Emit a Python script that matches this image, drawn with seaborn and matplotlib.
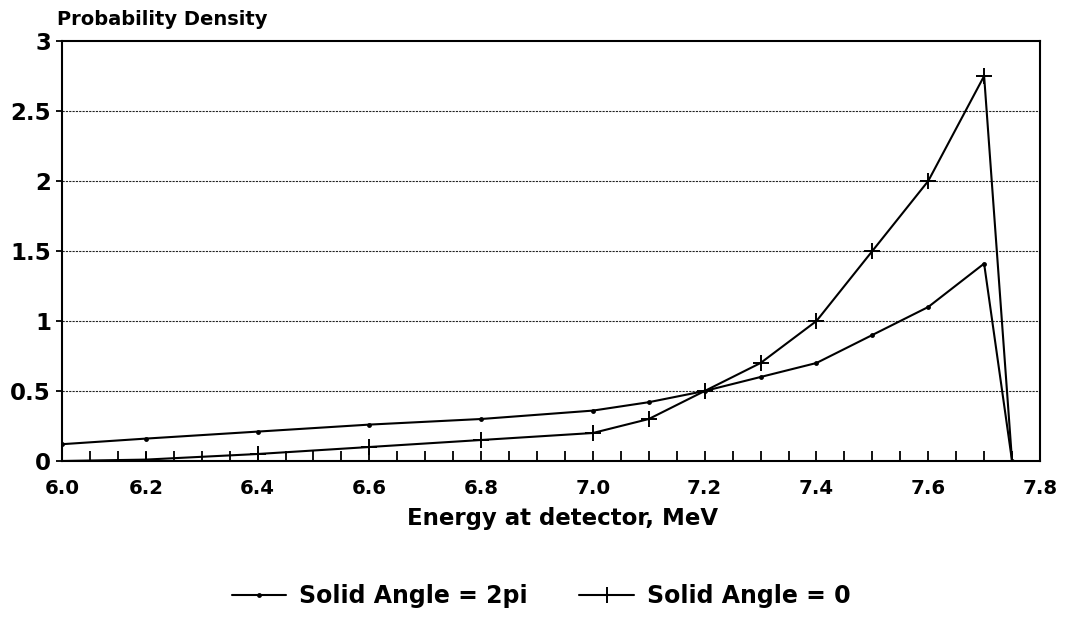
import numpy as np
import pandas as pd
import seaborn as sns
import matplotlib.pyplot as plt

# values
energy = [6.05, 6.2, 6.4, 6.6, 6.8, 7.0, 7.1, 7.2, 7.3, 7.4, 7.5, 7.6, 7.7, 7.75]
density_2pi = [0.12, 0.16, 0.21, 0.26, 0.30, 0.36, 0.42, 0.50, 0.60, 0.70, 0.90, 1.10, 1.41, 0.0]
density_0 = [0.0, 0.01, 0.05, 0.10, 0.15, 0.20, 0.30, 0.50, 0.70, 1.00, 1.50, 2.00, 2.75, 0.0]

x_ticks = [6.05, 6.2, 6.4, 6.6, 6.8, 7.0, 7.2, 7.4, 7.6, 7.8]
x_tick_labels = ["6.0", "6.2", "6.4", "6.6", "6.8", "7.0", "7.2", "7.4", "7.6", "7.8"]
y_ticks = [0, 0.5, 1, 1.5, 2, 2.5, 3]
y_tick_labels = ["0", "0.5", "1", "1.5", "2", "2.5", "3"]

df = pd.DataFrame({"E": energy, "2pi": density_2pi, "0": density_0})

sns.set_style("white")
plt.rcParams["font.family"] = ["DejaVu Sans"]
plt.rcParams["font.weight"] = "bold"
plt.rcParams["text.color"] = "black"
plt.rcParams["xtick.color"] = "black"
plt.rcParams["ytick.color"] = "black"
plt.rcParams["axes.labelcolor"] = "black"

fig = plt.figure(figsize=(10.68, 6.2), dpi=100)
ax = fig.add_axes([62 / 1068, 1 - 461 / 620, (1040 - 62) / 1068, (461 - 41) / 620])

sns.lineplot(data=df, x="E", y="2pi", ax=ax, color="black", linewidth=1.5,
             marker="o", markersize=3.5, markeredgewidth=0, label="Solid Angle = 2pi")
sns.lineplot(data=df, x="E", y="0", ax=ax, color="black", linewidth=1.5,
             marker="+", markersize=12, markeredgewidth=1.4, markeredgecolor="black",
             label="Solid Angle = 0")

ax.set_xlim(6.05, 7.8)
ax.set_ylim(0, 3)
ax.set_xticks(x_ticks)
ax.set_xticklabels(x_tick_labels, fontsize=14.2, fontweight="bold")
ax.set_xticks(np.arange(6.05, 7.81, 0.05), minor=True)
ax.set_yticks(y_ticks)
ax.set_yticklabels(y_tick_labels, fontsize=16.5, fontweight="bold")
ax.tick_params(axis="x", which="both", bottom=True, direction="in", length=7, width=1.3,
               pad=13, color="black")
ax.tick_params(axis="y", left=True, direction="out", length=4, width=1.3, pad=4, color="black")

for yv in y_ticks[1:-1]:
    ax.axhline(yv, color="#222222", linewidth=0.8, linestyle=(0, (2, 1)), zorder=0)

for side in ["left", "right", "top", "bottom"]:
    ax.spines[side].set_visible(True)
    ax.spines[side].set_color("black")
    ax.spines[side].set_linewidth(1.5)

ax.set_xlabel("Energy at detector, MeV", fontsize=16.5, fontweight="bold")
ax.xaxis.set_label_coords(0.512, -0.11)
ax.set_ylabel("")
fig.text(57 / 1068, 1 - 25 / 620, "Probability Density", fontsize=14,
         fontweight="bold", ha="left", va="baseline")

handles, labels = ax.get_legend_handles_labels()
ax.get_legend().remove()
fig.legend(handles, labels, loc="center", bbox_to_anchor=(541 / 1068, 1 - 596 / 620),
           ncol=2, frameon=False, fontsize=17, handlelength=2.3,
           handletextpad=0.55, columnspacing=2.2)

fig.savefig("out.png", dpi=100)
